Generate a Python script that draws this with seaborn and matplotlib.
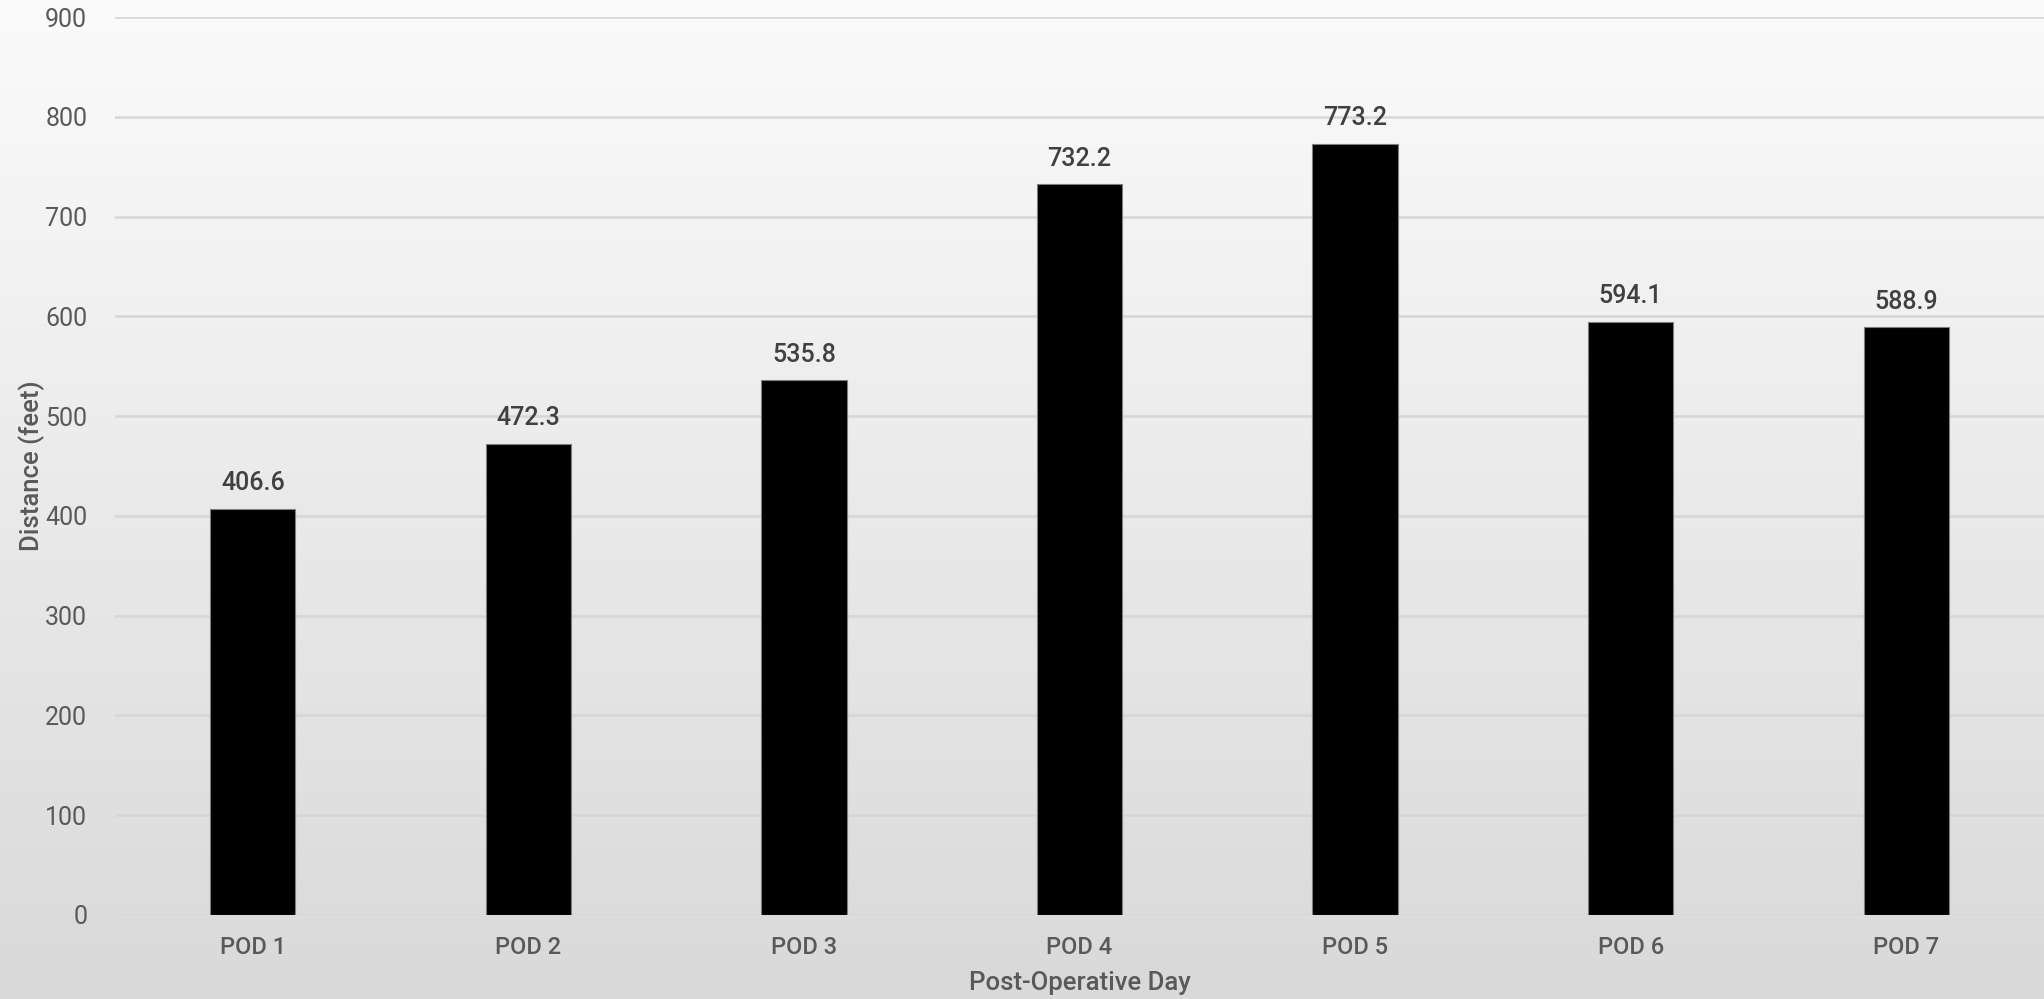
import numpy as np
import pandas as pd
import matplotlib
matplotlib.use("Agg")
import matplotlib.pyplot as plt
import seaborn as sns
from matplotlib.colors import LinearSegmentedColormap

categories = ["POD 1", "POD 2", "POD 3", "POD 4", "POD 5", "POD 6", "POD 7"]
distances = [406.6, 472.3, 535.8, 732.2, 773.2, 594.1, 588.9]
yticks = [0, 100, 200, 300, 400, 500, 600, 700, 800, 900]

sns.set_theme(style="white")
plt.rcParams['font.family'] = ['Roboto', 'DejaVu Sans']

fig = plt.figure(figsize=(20.44, 9.99), dpi=100)

# gradient background
bg = fig.add_axes([0, 0, 1, 1], zorder=0)
cmap = LinearSegmentedColormap.from_list("bg", ["#fbfbfb", "#d9d9d9"])
grad = np.linspace(0, 1, 256).reshape(-1, 1)
bg.imshow(grad, aspect="auto", cmap=cmap, extent=[0, 1, 0, 1], origin="upper")
bg.set_axis_off()

ax = fig.add_axes([115 / 2044, (999 - 915) / 999, 1 - 115 / 2044, (915 - 17) / 999], zorder=1)
ax.patch.set_alpha(0)

df = pd.DataFrame({"day": categories, "dist": distances})
sns.barplot(data=df, x="day", y="dist", color="black", width=0.31, ax=ax,
            edgecolor="#7f7f7f", linewidth=0.8, saturation=1, zorder=3)

ax.set_ylim(0, 900)
ax.set_xlim(-0.5, 6.5)
ax.set_yticks(yticks)
ax.yaxis.grid(True, color="#d6d6d6", linewidth=1.8, zorder=0)
ax.set_axisbelow(True)
for s in ax.spines.values():
    s.set_visible(False)
ax.tick_params(axis="both", length=0)
ax.tick_params(axis="y", labelsize=18, labelcolor="#595959", pad=20)
ax.tick_params(axis="x", labelsize=17, labelcolor="#595959", pad=15)
for lbl in ax.get_xticklabels():
    lbl.set_fontweight("medium")

for i, v in enumerate(distances):
    ax.annotate(f"{v:.1f}", (i, v), xytext=(0, 10), textcoords="offset points",
                ha="center", va="bottom", fontsize=18, color="#404040", fontweight="medium")

ax.set_xlabel("Post-Operative Day", fontsize=18.5, color="#595959", fontweight="medium", labelpad=9)
ax.set_ylabel("Distance (feet)", fontsize=18.5, color="#595959", fontweight="medium", labelpad=0)

fig.savefig("out.png", dpi=100)
